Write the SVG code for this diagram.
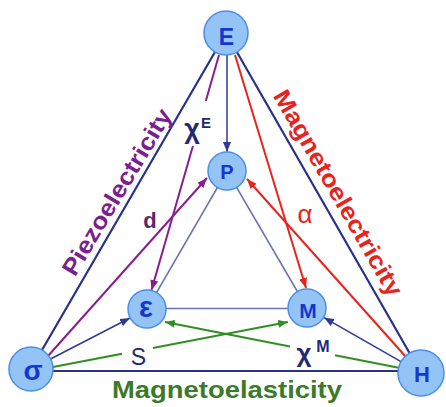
<svg xmlns="http://www.w3.org/2000/svg" width="446" height="407" viewBox="0 0 446 407">
<style>
.node circle{fill:#94c4f6;stroke:#4b8ee6;stroke-width:1.5}
.node text{font-family:"Liberation Sans",Arial,sans-serif;font-weight:bold;fill:#1537d0;text-anchor:middle}
.outer{stroke:#27318a;stroke-width:2.2;fill:none}
.inner{stroke:#6a74b4;stroke-width:1.5;fill:none}
.nav{stroke:#2e3a96;stroke-width:1.5;fill:none}
.pur{stroke:#8a1c92;stroke-width:2;fill:none}
.red{stroke:#e8231e;stroke-width:2;fill:none}
.grn{stroke:#2f8f22;stroke-width:2;fill:none}
.lbl{font-family:"Liberation Sans",Arial,sans-serif}
.big{font-family:"Liberation Sans",Arial,sans-serif;font-weight:bold;font-size:24px}
</style>
<defs>
<marker id="aNav" viewBox="0 0 10 8" refX="10" refY="4" markerWidth="10" markerHeight="8" markerUnits="userSpaceOnUse" orient="auto"><path d="M0,0 L10,4 L0,8 z" fill="#2e3a96"/></marker>
<marker id="aPur" viewBox="0 0 10 8" refX="10" refY="4" markerWidth="10" markerHeight="8" markerUnits="userSpaceOnUse" orient="auto"><path d="M0,0 L10,4 L0,8 z" fill="#8a1c92"/></marker>
<marker id="aRed" viewBox="0 0 10 8" refX="10" refY="4" markerWidth="10" markerHeight="8" markerUnits="userSpaceOnUse" orient="auto"><path d="M0,0 L10,4 L0,8 z" fill="#e8231e"/></marker>
<marker id="aGrn" viewBox="0 0 10 8" refX="10" refY="4" markerWidth="10" markerHeight="8" markerUnits="userSpaceOnUse" orient="auto"><path d="M0,0 L10,4 L0,8 z" fill="#2f8f22"/></marker>
</defs>
<rect width="446" height="407" fill="#ffffff"/>
<g id="connectors">
<line class="outer" x1="226" y1="33" x2="31" y2="369"/>
<line class="outer" x1="226" y1="33" x2="421" y2="373"/>
<line class="outer" x1="31" y1="371" x2="421" y2="371"/>
<line class="inner" x1="227" y1="171" x2="147" y2="309"/>
<line class="inner" x1="227" y1="171" x2="307" y2="308"/>
<line class="inner" x1="147" y1="308.5" x2="307" y2="308.5"/>
<line class="nav" x1="227" y1="55" x2="227" y2="152" marker-end="url(#aNav)"/>
<line class="nav" x1="50.5" y1="359" x2="130" y2="318" marker-end="url(#aNav)"/>
<line class="nav" x1="401" y1="361.6" x2="324" y2="317.6" marker-end="url(#aNav)"/>
<line class="pur" x1="219" y1="55" x2="205.8" y2="101"/>
<line class="pur" x1="192.9" y1="146" x2="151.5" y2="290" marker-end="url(#aPur)"/>
<line class="pur" x1="48" y1="356" x2="207" y2="178" marker-end="url(#aPur)"/>
<line class="red" x1="235" y1="55" x2="306" y2="288" marker-end="url(#aRed)"/>
<line class="red" x1="406" y1="357" x2="247" y2="179" marker-end="url(#aRed)"/>
<line class="grn" x1="53" y1="367" x2="122" y2="353.8"/>
<line class="grn" x1="153" y1="347.9" x2="288" y2="322" marker-end="url(#aGrn)"/>
<line class="grn" x1="400" y1="368" x2="335" y2="355.3"/>
<line class="grn" x1="290" y1="346.5" x2="165" y2="322" marker-end="url(#aGrn)"/>
</g>
<g id="labels">
<text class="lbl" x="192" y="138" font-size="27" font-weight="bold" fill="#1f2a73" text-anchor="middle">χ</text>
<text class="lbl" x="206" y="128" font-size="15" font-weight="bold" fill="#1f2a73" text-anchor="middle">E</text>
<text class="lbl" x="150" y="228" font-size="22" font-weight="bold" fill="#5b2870" text-anchor="middle">d</text>
<text class="lbl" x="305" y="223" font-size="26" fill="#e8231e" text-anchor="middle">α</text>
<text class="lbl" x="138.5" y="365" font-size="23" fill="#1f2a73" text-anchor="middle">S</text>
<text class="lbl" x="304" y="362" font-size="26" font-weight="bold" fill="#1f2a73" text-anchor="middle">χ</text>
<text class="lbl" x="323" y="352" font-size="16" font-weight="bold" fill="#1f2a73" text-anchor="middle">M</text>
<text class="big" transform="translate(117,192) rotate(-59)" x="0" y="8" text-anchor="middle" fill="#7b1f8e" textLength="190" lengthAdjust="spacingAndGlyphs">Piezoelectricity</text>
<text class="big" transform="translate(338,193) rotate(60)" x="0" y="8" text-anchor="middle" fill="#e8231e" textLength="234" lengthAdjust="spacingAndGlyphs">Magnetoelectricity</text>
<text class="big" x="112" y="398" font-size="25" fill="#3b7a26" textLength="230" lengthAdjust="spacingAndGlyphs">Magnetoelasticity</text>
</g>
<g id="node-E" class="node"><circle cx="226" cy="33" r="22"/><text x="226.5" y="45" font-size="23">E</text></g>
<g id="node-P" class="node"><circle cx="227" cy="171" r="19"/><text x="227" y="179" font-size="20">P</text></g>
<g id="node-eps" class="node"><circle cx="147" cy="309" r="19"/><text x="146" y="317" font-size="29">ε</text></g>
<g id="node-M" class="node"><circle cx="307" cy="308" r="19"/><text x="308" y="318" font-size="21">M</text></g>
<g id="node-sigma" class="node"><circle cx="31" cy="369" r="22"/><text x="33" y="380" font-size="28">σ</text></g>
<g id="node-H" class="node"><circle cx="421" cy="373" r="23"/><text x="422" y="382" font-size="22">H</text></g>
</svg>
